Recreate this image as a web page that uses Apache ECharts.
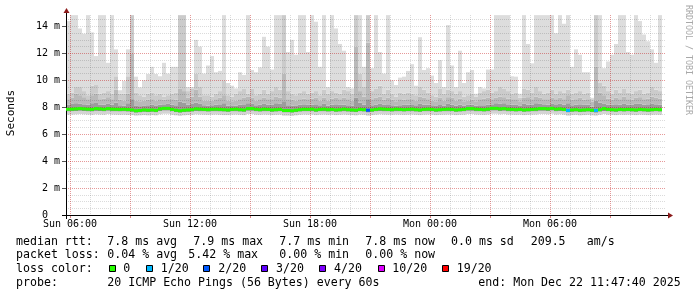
<!DOCTYPE html>
<html><head><meta charset="utf-8">
<script src="https://cdn.jsdelivr.net/npm/echarts@6.0.0/dist/echarts.min.js"></script>
<style>html,body{margin:0;padding:0;background:#fff;}#c{width:697px;height:297px;}</style>
</head><body><div id="c"></div>
<script>
// ---- axis data ----
const SLOT_MINUTES = 12; // each slot = 12 minutes, axis starts Sun 05:48
const slotCount = 151;
const tickLabels = ['Sun 06:00', 'Sun 12:00', 'Sun 18:00', 'Mon 00:00', 'Mon 06:00'];
const tickSlots = [1, 31, 61, 91, 121];
const yMajorValues = [0, 2, 4, 6, 8, 10, 12, 14];
const yMajorLabels = ['0  ', '2 m', '4 m', '6 m', '8 m', '10 m', '12 m', '14 m'];

// ---- series data (ms), one value per 12-minute column ----
const pingMax = [14.4,14.84,14.84,13.85,13.46,14.84,13.56,11.8,14.84,14.84,
 11.3,14.84,12.3,9.26,9.95,12.3,14.84,10.27,9.48,10.0,
 10.47,11.0,10.47,10.3,11.3,10.5,11.0,11.0,14.84,14.84,
 9.5,9.5,13.0,12.5,10.5,11.1,11.8,10.6,10.7,14.84,
 9.8,9.6,9.4,10.6,10.4,14.84,10.77,10.6,10.96,13.23,
 12.5,10.8,14.84,14.84,14.84,12.1,13.0,11.9,14.84,14.84,
 12.1,14.84,14.35,11.0,14.84,9.5,14.84,13.85,12.7,12.2,
 9.5,9.4,14.84,14.84,11.0,14.84,10.9,14.84,12.1,10.5,
 14.84,10.0,9.65,10.2,10.27,10.7,11.2,9.6,13.2,10.77,
 10.9,10.35,9.8,11.5,9.5,14.1,11.1,9.5,12.2,9.8,
 10.6,10.77,9.0,9.5,9.4,10.8,10.8,14.84,14.84,14.84,
 14.84,10.3,10.27,9.0,14.84,12.7,11.26,14.84,14.84,14.84,
 14.84,14.84,13.5,14.84,14.2,14.84,11.0,12.3,11.9,10.6,
 10.6,8.7,14.84,14.84,10.9,11.4,11.9,12.7,14.84,14.84,
 12.1,11.9,14.84,14.4,13.4,12.9,12.3,11.3,14.84];
const pingHi3 = [9.0,9.1,9.5,9.5,9.2,8.9,9.6,9.65,9.0,9.1,
 9.2,9.0,10.3,9.0,9.0,10.3,14.84,9.1,8.9,8.8,
 9.0,9.1,8.9,9.0,8.8,8.9,9.0,9.1,14.84,14.84,
 9.2,9.4,10.5,9.5,8.9,8.9,8.8,9.0,9.2,10.0,
 8.9,8.8,9.0,9.2,9.4,9.0,9.4,8.9,9.0,9.3,
 9.0,9.2,9.5,9.3,14.84,9.2,9.0,8.9,9.1,9.2,
 9.0,9.1,9.2,8.9,9.3,9.0,9.2,9.1,9.0,9.3,
 9.2,9.0,14.84,10.5,9.5,14.84,9.2,9.4,9.6,9.0,
 9.3,9.0,8.8,9.1,9.0,9.1,9.0,8.9,9.5,9.3,
 9.1,8.9,8.8,9.4,9.0,9.3,9.2,9.0,9.2,8.8,
 8.9,9.0,8.8,9.1,9.2,9.3,9.1,9.2,9.5,9.4,
 9.2,9.0,9.1,8.7,9.4,9.3,9.1,9.5,9.2,9.0,
 9.1,9.3,9.0,9.2,9.1,9.3,9.0,9.1,9.2,9.0,
 9.1,8.6,14.84,9.8,9.6,9.2,9.0,9.3,9.1,9.4,
 9.1,9.0,9.2,9.3,9.0,9.1,9.5,9.3,9.2];
const pingHi2 = [8.6,8.7,9.0,8.9,8.75,8.6,8.9,9.0,8.6,8.65,
 8.75,8.6,9.3,8.55,8.5,9.0,12.0,8.5,8.45,8.5,
 8.55,8.6,8.5,8.6,8.55,8.6,8.6,8.55,9.4,9.2,
 8.7,8.8,9.3,8.8,8.5,8.5,8.5,8.6,8.7,8.9,
 8.5,8.45,8.5,8.6,8.7,8.8,8.7,8.5,8.6,8.7,
 8.6,8.6,8.8,8.7,10.5,8.6,8.55,8.5,8.6,8.65,
 8.6,8.65,8.7,8.5,8.7,8.5,8.65,8.7,8.6,8.7,
 8.6,8.5,12.5,9.2,8.8,12.8,8.6,8.7,8.8,8.55,
 8.7,8.55,8.45,8.6,8.55,8.6,8.6,8.5,8.8,8.7,
 8.6,8.5,8.45,8.7,8.5,8.75,8.7,8.5,8.65,8.45,
 8.5,8.55,8.45,8.6,8.65,8.7,8.6,8.7,8.8,8.75,
 8.65,8.6,8.6,8.45,8.7,8.75,8.6,8.8,8.7,8.6,
 8.6,8.7,8.6,8.7,8.6,8.9,8.55,8.6,8.7,8.55,
 8.6,8.4,11.0,9.1,8.9,8.65,8.55,8.7,8.6,8.8,
 8.6,8.55,8.7,8.75,8.6,8.65,8.8,8.7,8.65];
const pingHi1 = [8.2,8.25,8.3,8.28,8.22,8.2,8.3,8.32,8.18,8.2,
 8.25,8.2,8.35,8.15,8.12,8.3,8.6,8.1,8.08,8.1,
 8.15,8.18,8.1,8.2,8.22,8.25,8.2,8.15,8.4,8.35,
 8.2,8.25,8.35,8.25,8.15,8.12,8.15,8.2,8.22,8.3,
 8.12,8.1,8.12,8.2,8.22,8.3,8.25,8.15,8.2,8.25,
 8.2,8.18,8.3,8.25,8.45,8.15,8.12,8.1,8.2,8.22,
 8.18,8.2,8.22,8.15,8.25,8.12,8.2,8.22,8.18,8.2,
 8.15,8.12,8.7,8.35,8.2,8.6,8.15,8.2,8.25,8.18,
 8.22,8.15,8.12,8.15,8.18,8.2,8.22,8.15,8.25,8.2,
 8.2,8.15,8.1,8.22,8.12,8.25,8.2,8.12,8.2,8.12,
 8.18,8.2,8.12,8.15,8.15,8.2,8.22,8.3,8.28,8.3,
 8.22,8.2,8.18,8.1,8.25,8.2,8.18,8.3,8.25,8.22,
 8.2,8.25,8.22,8.25,8.2,8.3,8.15,8.2,8.22,8.18,
 8.2,8.05,8.5,8.35,8.25,8.2,8.18,8.22,8.2,8.25,
 8.2,8.18,8.25,8.28,8.2,8.22,8.25,8.22,8.2];
const medianRtt = [7.85,7.86,7.88,7.9,7.88,7.86,7.84,7.9,7.88,7.85,
 7.9,7.86,7.85,7.84,7.85,7.83,7.8,7.74,7.76,7.8,
 7.78,7.8,7.77,7.88,7.92,7.92,7.84,7.78,7.74,7.78,
 7.8,7.82,7.88,7.86,7.84,7.82,7.85,7.86,7.84,7.82,
 7.8,7.84,7.86,7.82,7.8,7.9,7.9,7.85,7.82,7.86,
 7.84,7.8,7.82,7.84,7.76,7.76,7.74,7.78,7.82,7.85,
 7.84,7.86,7.8,7.84,7.86,7.82,7.84,7.8,7.82,7.86,
 7.82,7.8,7.78,7.84,7.82,7.78,7.8,7.84,7.88,7.86,
 7.84,7.82,7.86,7.84,7.82,7.84,7.86,7.82,7.8,7.84,
 7.86,7.84,7.8,7.82,7.84,7.86,7.84,7.8,7.82,7.84,
 7.9,7.9,7.86,7.84,7.82,7.86,7.92,7.92,7.88,7.9,
 7.86,7.84,7.82,7.84,7.8,7.82,7.84,7.86,7.9,7.9,
 7.88,7.92,7.86,7.88,7.84,7.76,7.8,7.82,7.78,7.8,
 7.82,7.78,7.76,7.82,7.9,7.84,7.82,7.8,7.84,7.82,
 7.84,7.82,7.8,7.84,7.82,7.8,7.82,7.84,7.82];
const pingLowMid = [7.7,7.71,7.72,7.74,7.72,7.7,7.69,7.73,7.72,7.7,
 7.74,7.7,7.7,7.69,7.7,7.68,7.66,7.6,7.62,7.66,
 7.64,7.66,7.63,7.72,7.76,7.76,7.7,7.64,7.6,7.64,
 7.66,7.68,7.72,7.7,7.7,7.68,7.7,7.7,7.69,7.68,
 7.66,7.7,7.7,7.68,7.66,7.74,7.74,7.7,7.68,7.7,
 7.7,7.66,7.68,7.7,7.62,7.62,7.6,7.64,7.68,7.7,
 7.7,7.7,7.66,7.7,7.7,7.68,7.7,7.66,7.68,7.7,
 7.68,7.66,7.64,7.7,7.68,7.62,7.66,7.7,7.72,7.7,
 7.7,7.68,7.7,7.7,7.68,7.7,7.7,7.68,7.66,7.7,
 7.7,7.7,7.66,7.68,7.7,7.7,7.7,7.66,7.68,7.7,
 7.74,7.74,7.7,7.7,7.68,7.7,7.76,7.76,7.72,7.74,
 7.7,7.7,7.68,7.7,7.66,7.68,7.7,7.7,7.74,7.74,
 7.72,7.76,7.7,7.72,7.7,7.62,7.66,7.68,7.64,7.66,
 7.68,7.64,7.6,7.68,7.72,7.7,7.68,7.66,7.7,7.68,
 7.7,7.68,7.66,7.7,7.68,7.66,7.68,7.7,7.68];
const pingLow = [7.45,7.46,7.48,7.5,7.48,7.46,7.44,7.48,7.46,7.45,
 7.5,7.46,7.45,7.44,7.45,7.43,7.42,7.38,7.4,7.42,
 7.4,7.42,7.4,7.48,7.52,7.52,7.44,7.4,7.36,7.4,
 7.42,7.44,7.48,7.46,7.45,7.44,7.45,7.46,7.44,7.42,
 7.42,7.45,7.46,7.44,7.42,7.5,7.5,7.45,7.44,7.46,
 7.45,7.42,7.44,7.45,7.38,7.38,7.36,7.4,7.44,7.46,
 7.45,7.46,7.42,7.45,7.46,7.44,7.45,7.42,7.44,7.46,
 7.44,7.42,7.4,7.45,7.44,7.38,7.42,7.45,7.48,7.46,
 7.45,7.44,7.46,7.45,7.44,7.45,7.46,7.44,7.42,7.45,
 7.46,7.45,7.42,7.44,7.45,7.46,7.45,7.42,7.44,7.45,
 7.5,7.5,7.46,7.45,7.44,7.46,7.52,7.52,7.48,7.5,
 7.46,7.45,7.44,7.45,7.42,7.44,7.45,7.46,7.5,7.5,
 7.48,7.52,7.46,7.48,7.45,7.38,7.42,7.44,7.4,7.42,
 7.44,7.4,7.38,7.44,7.5,7.45,7.44,7.42,7.45,7.44,
 7.45,7.44,7.42,7.45,7.44,7.42,7.44,7.45,7.44];
const lossCount = [0,0,0,0,0,0,0,0,0,0, 0,0,0,0,0,0,0,0,0,0,
 0,0,0,0,0,0,0,0,0,0, 0,0,0,0,0,0,0,0,0,0,
 0,0,0,0,0,0,0,0,0,0, 0,0,0,0,0,0,0,0,0,0,
 0,0,0,0,0,0,0,0,0,0, 0,0,0,0,0,2,0,0,0,0,
 0,0,0,0,0,0,0,0,0,0, 0,0,0,0,0,0,0,0,0,0,
 0,0,0,0,0,0,0,0,0,0, 0,0,0,0,0,0,0,0,0,0,
 0,0,0,0,0,1,0,0,0,0, 0,0,1,0,0,0,0,0,0,0,
 0,0,0,0,0,0,0,0,0];

// ---- legend ----
const lossSteps = [0, 1, 2, 3, 4, 10, 19];
const lossNames = ['0', '1/20', '2/20', '3/20', '4/20', '10/20', '19/20'];
const lossColors = ['#26ff00', '#00b8ff', '#0059ff', '#5e00ff', '#7e00ff', '#dd00ff', '#ff0000'];
const rttLine = [['median rtt:', 16], ['7.8 ms avg', 107.3], ['7.9 ms max', 193.3], ['7.7 ms min', 279.3],
  ['7.8 ms now', 365.3], ['0.0 ms sd', 451], ['209.5', 530.7], ['am/s', 586.7]];
const lossLine = [['packet loss:', 16], ['0.04 % avg', 107.3], ['5.42 % max', 188.3], ['0.00 % min', 279.3], ['0.00 % now', 365.3]];
const probeLine = [['probe:', 16], ['20 ICMP Echo Pings (56 Bytes) every 60s', 107.3], ['end: Mon Dec 22 11:47:40 2025', 478.3]];

// ---- build ----
const MONO = "'DejaVu Sans Mono', monospace";
const slots = Array.from({length: slotCount}, (_, i) => String(i));
const bandColors = ['#d4d4d4', '#8c8c8c', '#9c9c9c', '#b9b9b9', '#cbcbcb', '#dddddd'];
const GRID_MINOR = 'rgba(0,0,0,0.14)';
const GRID_MAJOR = 'rgba(255,0,0,0.3)';
const smokeData = pingMax.map((m, k) => [k, pingLow[k], pingLowMid[k], medianRtt[k], pingHi1[k], pingHi2[k], pingHi3[k], m]);
const medianData = medianRtt.map((m, k) => [k, m, lossCount[k]]);
function lossColor(n) { let c = lossColors[0]; lossSteps.forEach((s, i) => { if (n >= s) c = lossColors[i]; }); return c; }

function renderSmoke(params, api) {
  const k = api.value(0);
  const x0 = api.coord([k, 0])[0];
  const x1 = api.coord([k + 1, 0])[0];
  const children = [];
  for (let b = 0; b < 6; b++) {
    const lo = api.value(b + 1), hi = api.value(b + 2);
    if (hi <= lo) continue;
    const yT = api.coord([k, hi])[1];
    const yB = api.coord([k, lo])[1];
    children.push({type: 'rect', shape: {x: x0, y: yT, width: x1 - x0, height: yB - yT}, style: {fill: bandColors[b]}});
  }
  return {type: 'group', children};
}
function renderMedian(params, api) {
  const k = api.value(0), m = api.value(1), loss = api.value(2);
  const p0 = api.coord([k, m]);
  const p1 = api.coord([k + 1, m]);
  return {type: 'rect', shape: {x: p0[0], y: p0[1] - 1.5, width: p1[0] - p0[0], height: 3}, style: {fill: lossColor(loss)}};
}

const graphics = [];
function addLine(items, y) {
  items.forEach(([t, x]) => graphics.push({type: 'text', x, y, silent: true,
    style: {text: t, font: '11.6px ' + MONO, fill: '#000', textVerticalAlign: 'middle'}}));
}
addLine(rttLine, 241.7);
addLine(lossLine, 255);
addLine([['loss color:', 16]], 269);
addLine(probeLine, 282.7);
const boxX = [109.5, 146.5, 203.5, 261.5, 319.5, 378.5, 442.5];
const boxTextX = [123.3, 160.7, 218.3, 276, 334, 392.3, 456.7];
lossNames.forEach((n, i) => {
  graphics.push({type: 'rect', shape: {x: boxX[i], y: 265.5, width: 6, height: 6}, style: {fill: lossColors[i], stroke: '#000', lineWidth: 1}});
  graphics.push({type: 'text', x: boxTextX[i], y: 269, style: {text: n, font: '11.6px ' + MONO, fill: '#000', textVerticalAlign: 'middle'}});
});
graphics.push({type: 'text', x: 11, y: 113, rotation: Math.PI / 2,
  style: {text: 'Seconds', font: '11px ' + MONO, fill: '#000', textAlign: 'center', textVerticalAlign: 'middle'}});
graphics.push({type: 'text', x: 688, y: 60, rotation: -Math.PI / 2,
  style: {text: 'RRDTOOL / TOBI OETIKER', font: '8.3px ' + MONO, fill: '#a8a8a8', textAlign: 'center', textVerticalAlign: 'middle'}});
// axis extensions and arrows
graphics.push({type: 'line', shape: {x1: 62, y1: 215.5, x2: 668, y2: 215.5}, style: {stroke: '#000', lineWidth: 1}, z: 5});
graphics.push({type: 'line', shape: {x1: 66.5, y1: 12, x2: 66.5, y2: 219}, style: {stroke: '#000', lineWidth: 1}, z: 5});
graphics.push({type: 'polygon', shape: {points: [[673, 215.5], [668, 212.5], [668, 218.5]]}, style: {fill: '#8b1a1a'}, z: 5});
graphics.push({type: 'polygon', shape: {points: [[66.5, 8], [63.5, 13], [69.5, 13]]}, style: {fill: '#8b1a1a'}, z: 5});

const chart = echarts.init(document.getElementById('c'), null, {renderer: 'canvas'});
chart.setOption({
  animation: false,
  backgroundColor: '#fff',
  grid: {left: 66, right: 31, top: 15, bottom: 82, containLabel: false},
  xAxis: [
    {type: 'category', data: slots, boundaryGap: false, position: 'top', z: 3,
     axisLine: {show: false}, axisTick: {show: false}, axisLabel: {show: false},
     splitLine: {show: true, interval: (i) => i >= 1 && (i - 1) % 5 === 0, lineStyle: {color: GRID_MINOR, width: 1, type: [1, 1]}}},
    {type: 'category', data: slots, boundaryGap: false, position: 'bottom', z: 3,
     axisLine: {show: false},
     axisTick: {show: true, interval: (i) => i >= 1 && (i - 1) % 15 === 0, length: 3, lineStyle: {color: '#e08080'}},
     axisLabel: {show: true, interval: (i) => tickSlots.indexOf(i) >= 0, margin: 4,
       formatter: (v, i) => { const j = tickSlots.indexOf(Number(v)); return j >= 0 ? tickLabels[j] : ''; },
       fontFamily: MONO, fontSize: 10, color: '#000'},
     splitLine: {show: true, interval: (i) => i >= 1 && (i - 1) % 15 === 0, lineStyle: {color: GRID_MAJOR, width: 1, type: [1, 1]}}}
  ],
  yAxis: [
    {type: 'value', min: 0, max: 14.85, interval: 0.5, position: 'right', z: 3,
     axisLine: {show: false}, axisTick: {show: false}, axisLabel: {show: false},
     splitLine: {show: true, showMinLine: false, showMaxLine: false, lineStyle: {color: GRID_MINOR, width: 1, type: [1, 1]}}},
    {type: 'value', min: 0, max: 14.85, interval: 2, position: 'left', z: 3,
     axisLine: {show: false},
     axisTick: {show: true, length: 4, lineStyle: {color: '#555'}, customValues: yMajorValues},
     axisLabel: {show: true, margin: 6, fontFamily: MONO, fontSize: 10, color: '#000',
       customValues: yMajorValues,
       formatter: (v) => { const j = yMajorValues.indexOf(Math.round(v)); return (j >= 0 && Math.abs(v - yMajorValues[j]) < 1e-6) ? yMajorLabels[j] : ''; }},
     splitLine: {show: true, showMinLine: false, showMaxLine: false, lineStyle: {color: GRID_MAJOR, width: 1, type: [1, 1]}}}
  ],
  series: [
    {type: 'custom', name: 'smoke', xAxisIndex: 1, yAxisIndex: 1, z: 2, clip: true, silent: true,
     renderItem: renderSmoke, data: smokeData, encode: {x: 0, y: 7}},
    {type: 'custom', name: 'median', xAxisIndex: 1, yAxisIndex: 1, z: 6, clip: true, silent: true,
     renderItem: renderMedian, data: medianData, encode: {x: 0, y: 1}}
  ],
  graphic: graphics
});
</script>
</body></html>
